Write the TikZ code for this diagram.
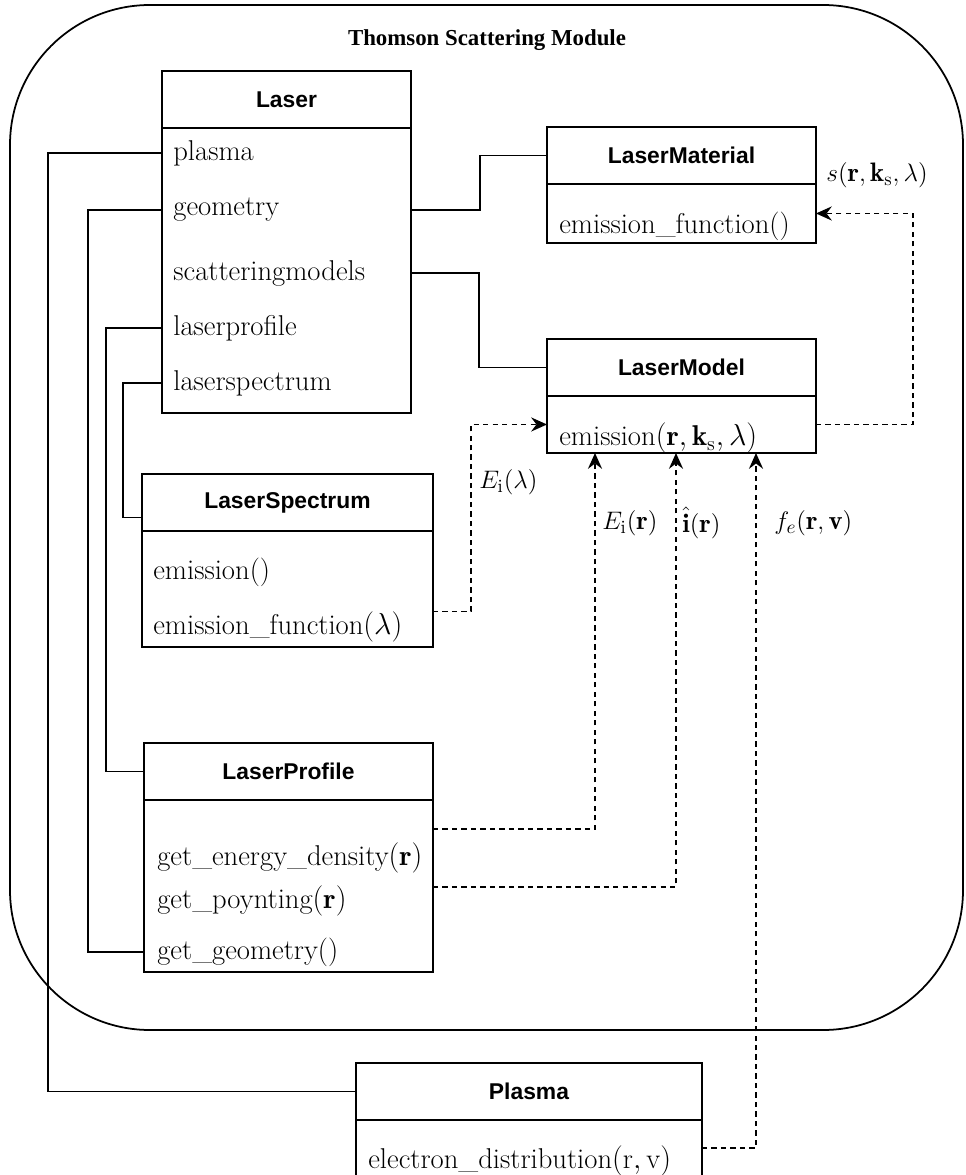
\documentclass[tikz,border=0pt]{standalone}
\usepackage{amsmath,amssymb}
\usepackage{fontspec}
\newfontfamily\clsfont{Liberation Sans}
\newfontfamily\ttlfont{Liberation Serif}
\usepackage{tikz}
\usetikzlibrary{arrows.meta,positioning,calc}

\begin{document}
\begin{tikzpicture}[
  x=0.02cm, y=-0.02cm,
  module/.style={draw, line width=1pt, rounded corners=2.8cm},
  title/.style={inner sep=0pt, font=\fontsize{13}{15}\selectfont\ttlfont\bfseries},
  classhead/.style={draw, line width=1.1pt, outer sep=0pt, inner sep=0pt, minimum height=1.14cm, font=\fontsize{13}{15}\selectfont\clsfont\bfseries},
  classbody/.style={draw, line width=1.1pt, outer sep=0pt, inner sep=0pt},
  member/.style={anchor=west, inner sep=0pt, font=\fontsize{16.3}{19}\selectfont},
  lbl/.style={inner sep=0pt, font=\fontsize{15.2}{18}\selectfont},
  link/.style={line width=1.1pt},
  flow/.style={line width=1.1pt, dash pattern=on 3pt off 2.4pt, -{Stealth[length=9pt,width=8pt,inset=3pt]}},
]
\useasboundingbox (0,0) rectangle (965,1175);

\draw[module] (10,5) rectangle (963,1030);
\node[title] (title) at (487,40) {Thomson Scattering Module};

% classes
\node[classhead, minimum width=4.98cm, anchor=north west] (laserH) at (162,71) {Laser};
\node[classbody, minimum width=4.98cm, minimum height=5.70cm, below=0pt of laserH] (laserB) {};
\node[member] (mPlasma) at (173,153) {plasma};
\node[member] (mGeom) at (173,210) {geometry};
\node[member] (mScat) at (173,273) {scatteringmodels};
\node[member] (mProf) at (173,328) {laserprofile};
\node[member] (mSpec) at (173,383) {laserspectrum};

\node[classhead, minimum width=5.38cm, anchor=north west] (lmatH) at (547,127) {LaserMaterial};
\node[classbody, minimum width=5.38cm, minimum height=1.18cm, below=0pt of lmatH] (lmatB) {};
\node[member] (mMatFn) at (559,226) {emission\_function()};

\node[classhead, minimum width=5.38cm, anchor=north west] (lmodH) at (547,339) {LaserModel};
\node[classbody, minimum width=5.38cm, minimum height=1.14cm, below=0pt of lmodH] (lmodB) {};
\node[member] (mEmis) at (559,438) {emission$(\mathbf{r},\mathbf{k}_{\mathrm{s}},\lambda)$};

\node[classhead, minimum width=5.82cm, anchor=north west] (lsH) at (142,474) {LaserSpectrum};
\node[classbody, minimum width=5.82cm, minimum height=2.32cm, below=0pt of lsH] (lsB) {};
\node[member] (mEmOnly) at (153,572) {emission()};
\node[member] (mEmFn) at (153,627) {emission\_function$(\lambda)$};

\node[classhead, minimum width=5.78cm, anchor=north west] (pfH) at (144,743) {LaserProfile};
\node[classbody, minimum width=5.78cm, minimum height=3.44cm, below=0pt of pfH] (pfB) {};
\node[member] (mEnergy) at (157,858) {get\_energy\_density$(\mathbf{r})$};
\node[member] (mPoynt) at (157,901) {get\_poynting$(\mathbf{r})$};
\node[member] (mGetGeo) at (157,952) {get\_geometry()};

\node[classhead, minimum width=6.92cm, anchor=north west] (plasmaH) at (356,1063) {Plasma};
\node[classbody, minimum width=6.92cm, minimum height=1.12cm, below=0pt of plasmaH] (plasmaB) {};
\node[member] (mElec) at (368,1161) {electron\_distribution$(\mathrm{r},\mathrm{v})$};

% associations
\draw[link] (laserB.west |- mPlasma) -- ++(-114,0) |- (plasmaH.west);
\draw[link] (laserB.west |- mGeom) -- ++(-74,0) |- (pfB.west |- mGetGeo);
\draw[link] (laserB.west |- mProf) -- ++(-56,0) |- (pfH.west);
\draw[link] (laserB.west |- mSpec) -- ++(-39,0) |- ($(lsH.west)+(0,15)$);
\draw[link] (laserB.east |- mGeom) -- ++(69,0) |- (lmatH.west);
\draw[link] (laserB.east |- mScat) -- ++(68,0) |- (lmodH.west);

% data flow
\draw[flow] (lsB.east |- mEmFn.north) -- ++(38,0) |- (lmodB.west);
\draw[flow] ($(pfB.east |- mEnergy)+(0,-29)$) -| ($(lmodB.south west)+(48,0)$);
\draw[flow] ($(pfB.east |- mPoynt)+(0,-14)$) -| ($(lmodB.south west)+(129,0)$);
\draw[flow] (plasmaB.east) -| ($(lmodB.south west)+(209,0)$);
\draw[flow] (lmodB.east) -- ++(97,0) |- (lmatB.east);

\node[lbl] (sLbl) at (877,175) {$s(\mathbf{r},\mathbf{k}_{\mathrm{s}},\lambda)$};
\node[lbl, anchor=west] (eLamLbl) at (479,482) {$E_{\mathrm{i}}(\lambda)$};
\node[lbl, anchor=west] (eRLbl) at (602,523) {$E_{\mathrm{i}}(\mathbf{r})$};
\node[lbl, anchor=west] (iLbl) at (682,523) {$\hat{\mathbf{i}}(\mathbf{r})$};
\node[lbl, anchor=west] (fLbl) at (774,523) {$f_e(\mathbf{r},\mathbf{v})$};

\end{tikzpicture}
\end{document}
